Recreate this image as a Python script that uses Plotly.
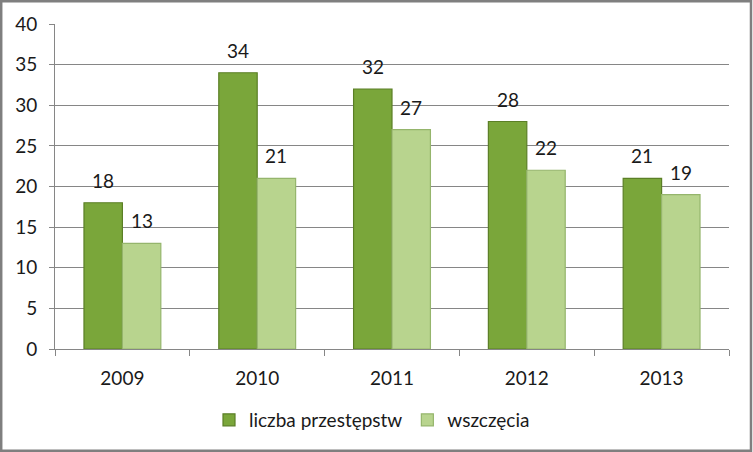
import plotly.graph_objects as go

years = ["2009", "2010", "2011", "2012", "2013"]
crimes = [18, 34, 32, 28, 21]
proceedings = [13, 21, 27, 22, 19]
series_names = ["liczba przestępstw", "wszczęcia"]
y_ticks = [0, 5, 10, 15, 20, 25, 30, 35, 40]

FONT = "Lato, Open Sans, sans-serif"

W0, W1 = 55, 729
H0, H1 = 24, 349
pw, ph = W1 - W0, H1 - H0
BARGAP = 0.43
bar_w = pw / len(years) * (1 - BARGAP) / 2

fig = go.Figure()
fig.add_trace(go.Bar(
    x=years, y=crimes, name=series_names[0],
    marker=dict(color="#7aa63a", line=dict(color="#5b7f26", width=1.2)),
))
fig.add_trace(go.Bar(
    x=years, y=proceedings, name=series_names[1],
    marker=dict(color="#b8d48e", line=dict(color="#95b56c", width=1.2)),
))

annotations = []
for i, yr in enumerate(years):
    for vals, sh in ((crimes, -bar_w / 2), (proceedings, bar_w / 2)):
        annotations.append(dict(
            x=i, y=vals[i], text=str(vals[i]), showarrow=False,
            xref="x", yref="y", xanchor="center", yanchor="bottom",
            xshift=sh, yshift=9,
            font=dict(size=19, family=FONT, color="#1a1a1a"),
        ))

fig.update_layout(
    width=753, height=452,
    margin=dict(l=W0, r=753 - W1, t=H0, b=452 - H1),
    paper_bgcolor="white", plot_bgcolor="white",
    barmode="group", bargap=BARGAP, bargroupgap=0.0,
    font=dict(family=FONT, size=19, color="#1a1a1a"),
    showlegend=True,
    legend=dict(orientation="h", x=(372 - W0) / pw, xanchor="center",
                y=(H1 - 420) / ph, yanchor="middle",
                font=dict(size=19, family=FONT), itemwidth=30,
                traceorder="normal"),
    xaxis=dict(type="category", showline=True, linecolor="#868686", linewidth=1,
               ticks="outside", tickson="boundaries", ticklen=6, tickcolor="#868686",
               showgrid=False, tickfont=dict(size=19, family=FONT),
               ticklabelstandoff=12, tickangle=0),
    yaxis=dict(range=[0, 40], tickvals=y_ticks, showline=True, linecolor="#868686",
               linewidth=1, ticks="outside", ticklen=5, tickcolor="#868686",
               showgrid=True, gridcolor="#868686", gridwidth=1, zeroline=False,
               tickfont=dict(size=19, family=FONT), ticklabelstandoff=8),
    annotations=annotations,
    shapes=[dict(type="rect", xref="paper", yref="paper",
                 x0=(1.2 - W0) / pw, x1=(751 - W0) / pw,
                 y0=(H1 - 450.8) / ph, y1=(H1 - 1.2) / ph,
                 line=dict(color="#7f7f7f", width=2.5), fillcolor="rgba(0,0,0,0)")],
)

fig.write_html("out.html", config={"displayModeBar": False},
               post_script="document.body.style.margin='0';document.body.style.overflow='hidden';")
